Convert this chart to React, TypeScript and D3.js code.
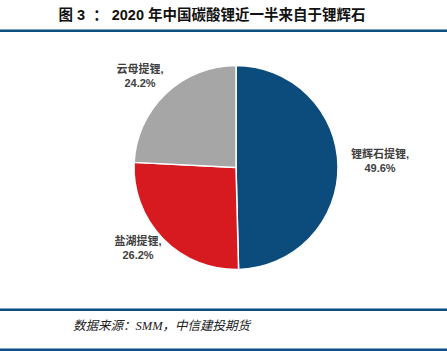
import React, { useEffect, useRef } from 'react';
import * as d3 from 'd3';

const categories = ['锂辉石提锂', '盐湖提锂', '云母提锂'];
const shares = [49.6, 26.2, 24.2];
const colors = ['#0B4C7C', '#D71920', '#A6A6A6'];
// label anchor points (centre of text block) per slice
const labelPos = [
  [380, 158],
  [138, 245],
  [140, 73],
];

const W = 447;
const H = 351;

export default function App() {
  const ref = useRef<SVGSVGElement | null>(null);

  useEffect(() => {
    const svg = d3.select(ref.current);
    svg.selectAll('*').remove();

    svg.append('rect').attr('width', W).attr('height', H).attr('fill', '#fff');

    // title
    svg.append('text')
      .attr('x', 212)
      .attr('y', 20)
      .attr('text-anchor', 'middle')
      .attr('font-family', '"Liberation Sans", Arial, "Noto Sans CJK SC", sans-serif')
      .attr('font-weight', 'bold')
      .attr('font-size', 14.5)
      .attr('fill', '#111')
      .style('white-space', 'pre')
      .text('图 3  ： 2020 年中国碳酸锂近一半来自于锂辉石');

    // rules
    const rule = (y: number) => {
      svg.append('rect').attr('x', 0).attr('y', y - 1).attr('width', W).attr('height', 1).attr('fill', '#7FA3C0');
      svg.append('rect').attr('x', 0).attr('y', y).attr('width', W).attr('height', 2).attr('fill', '#0D4F80');
    };
    rule(30);
    rule(309);
    rule(349);

    // pie
    const cx = 236;
    const cy = 167.5;
    const r = 102;
    const pie = d3.pie<number>().sort(null).value(d => d);
    const arc = d3.arc<d3.PieArcDatum<number>>().innerRadius(0).outerRadius(r);
    const g = svg.append('g').attr('transform', `translate(${cx},${cy})`);
    g.selectAll('path')
      .data(pie(shares))
      .enter()
      .append('path')
      .attr('d', arc)
      .attr('fill', (d, i) => colors[i])
      .attr('stroke', '#fff')
      .attr('stroke-width', 1.5);

    // labels
    categories.forEach((c, i) => {
      const t = svg.append('text')
        .attr('x', labelPos[i][0])
        .attr('y', labelPos[i][1])
        .attr('text-anchor', 'middle')
        .attr('font-family', '"Liberation Sans", Arial, "Noto Sans CJK SC", sans-serif')
        .attr('font-weight', 'bold')
        .attr('font-size', 11)
        .attr('fill', '#404040');
      t.append('tspan').attr('x', labelPos[i][0]).attr('dy', 0).text(c + ',');
      t.append('tspan').attr('x', labelPos[i][0]).attr('dy', 14).text(shares[i].toFixed(1) + '%');
    });

    // source
    svg.append('text')
      .attr('x', 73)
      .attr('y', 330)
      .attr('font-family', '"Liberation Serif", "Times New Roman", "Noto Sans CJK SC", serif')
      .attr('font-style', 'italic')
      .attr('font-size', 12.5)
      .attr('fill', '#222')
      .text('数据来源：SMM，中信建投期货');
  }, []);

  return (
    <div style={{ position: 'fixed', left: 0, top: 0 }}>
      <svg ref={ref} width={W} height={H} style={{ display: 'block' }} />
    </div>
  );
}
